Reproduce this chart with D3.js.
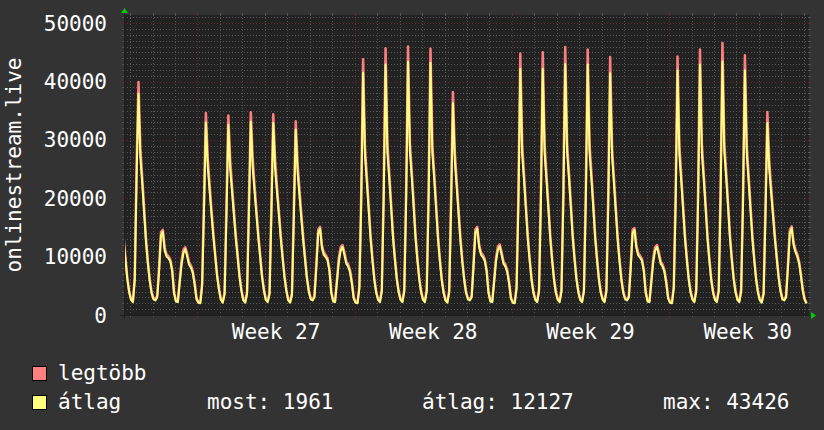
<!DOCTYPE html>
<html>
<head>
<meta charset="utf-8">
<script src="https://cdn.jsdelivr.net/npm/d3@7"></script>
<style>
body{margin:0;background:#333333;}
svg{display:block;}
text{font-family:"DejaVu Sans Mono",monospace;fill:#ffffff;}
</style>
</head>
<body>
<script>
(function(){

//first sample time and spacing (one sample every 2 hours)
var startTime = Date.UTC(2024, 5, 27, 17);
var stepHours = 2;

//átlag (average) series, one row per day
var avgValues = [
    13000, 9500, 6200, 3900,                                                        //Thu wk26 (17h-23h)
    2600, 2200, 6000, 24000, 37900, 27000, 22500, 17500, 12500, 8800, 5800, 3700,   //Fri
    2700, 2500, 3000, 7500, 13600, 14300, 11000, 10000, 9700, 9200, 7500, 3700,     //Sat
    2300, 2200, 5500, 8600, 10600, 11300, 10000, 8600, 8100, 7200, 5200, 2700,      //Sun
    2100, 2000, 5000, 18000, 33000, 25400, 21300, 17200, 13400, 10000, 6600, 4300,  //Mon wk27
    2600, 2100, 3500, 17000, 32600, 25000, 21000, 17000, 13000, 9800, 6400, 4100,
    2500, 2100, 3600, 17500, 33100, 25300, 21200, 17200, 13300, 9900, 6500, 4200,
    2600, 2200, 3500, 17000, 32900, 25000, 21000, 17100, 13100, 9700, 6400, 4100,
    2500, 2100, 3400, 16500, 31800, 24500, 20500, 16500, 12800, 9400, 6200, 4000,
    2700, 2500, 3000, 8000, 14000, 14800, 11500, 10300, 9900, 9400, 7600, 3800,
    2300, 2200, 5600, 9000, 11000, 11700, 10300, 8800, 8300, 7400, 5400, 2800,
    2100, 2000, 4500, 19000, 41500, 27300, 22800, 17900, 13000, 9300, 6000, 3800,   //Mon wk28
    2600, 2200, 4000, 19500, 42900, 27800, 23200, 18200, 13100, 9400, 6100, 3900,
    2600, 2200, 4000, 19500, 43400, 28000, 23600, 18600, 13200, 9400, 6100, 3900,
    2600, 2200, 4000, 19500, 43200, 27800, 23300, 18300, 13100, 9300, 6000, 3800,
    2500, 2100, 3800, 18000, 36300, 26500, 22000, 17300, 12700, 9100, 6000, 3800,
    2700, 2500, 3000, 8200, 14100, 14800, 11600, 10300, 9900, 9300, 7500, 3800,
    2300, 2200, 5600, 9100, 11100, 11800, 10300, 8800, 8300, 7400, 5400, 2800,
    2100, 2000, 4500, 19200, 42200, 27600, 23000, 18000, 13000, 9300, 6000, 3800,   //Mon wk29
    2600, 2200, 4000, 19300, 42200, 27600, 23000, 18100, 13100, 9300, 6000, 3800,
    2600, 2200, 4000, 19500, 43000, 27900, 23400, 18400, 13200, 9400, 6100, 3900,
    2600, 2200, 4000, 19500, 42900, 27800, 23300, 18300, 13100, 9300, 6000, 3800,
    2600, 2200, 4000, 19000, 41400, 27300, 22700, 17800, 12900, 9200, 6000, 3800,
    2700, 2500, 3000, 8000, 14000, 14600, 11500, 10200, 9800, 9300, 7500, 3800,
    2300, 2200, 5600, 9000, 11000, 11700, 10300, 8800, 8300, 7400, 5400, 2800,
    2100, 2000, 4500, 19000, 41900, 27500, 22900, 17900, 13000, 9300, 6000, 3800,   //Mon wk30
    2600, 2200, 4000, 19500, 42900, 27800, 23300, 18300, 13100, 9300, 6000, 3800,
    2600, 2200, 4000, 19600, 43426, 28000, 23500, 18500, 13200, 9400, 6100, 3900,
    2600, 2200, 4000, 19000, 41950, 27500, 22900, 17900, 13000, 9300, 6000, 3800,
    2500, 2100, 3500, 17000, 32900, 25000, 21000, 17000, 13100, 9700, 6400, 4100,
    2700, 2500, 3000, 8000, 14000, 14900, 12000, 10800, 10000, 8800, 6500, 4000,
    2500, 1961                                                                      //Sun wk30 (1h-3h)
];

//legtöbb (maximum) series, same timestamps
var maxValues = [
    13600, 9900, 6500, 4100,
    2750, 2350, 6400, 26000, 39900, 28500, 23500, 18300, 13100, 9200, 6100, 3900,
    2900, 2650, 3300, 8200, 14200, 14600, 11500, 10400, 10100, 9500, 7800, 3900,
    2500, 2350, 5800, 9300, 11200, 11600, 10500, 9000, 8500, 7500, 5500, 2900,
    2250, 2150, 5400, 20000, 34600, 26900, 22300, 18000, 14000, 10400, 6900, 4500,
    2750, 2250, 3900, 19000, 34200, 26500, 22000, 17800, 13600, 10200, 6700, 4300,
    2650, 2250, 4000, 19500, 34750, 26800, 22200, 18000, 13900, 10300, 6800, 4400,
    2750, 2350, 3900, 19000, 34400, 26500, 22000, 17900, 13700, 10100, 6700, 4300,
    2650, 2250, 3800, 18500, 33200, 26000, 21500, 17300, 13400, 9800, 6500, 4200,
    2900, 2650, 3300, 8700, 14600, 15100, 12000, 10700, 10300, 9700, 7900, 4000,
    2500, 2350, 5900, 9700, 11600, 12000, 10800, 9200, 8700, 7700, 5700, 3000,
    2250, 2150, 4900, 21000, 43800, 28800, 23800, 18700, 13600, 9700, 6300, 4000,
    2750, 2350, 4400, 21500, 45700, 29300, 24200, 19000, 13700, 9800, 6400, 4100,
    2750, 2350, 4400, 21500, 46000, 29500, 24600, 19400, 13800, 9800, 6400, 4100,
    2750, 2350, 4400, 21500, 45600, 29300, 24300, 19100, 13700, 9700, 6300, 4000,
    2650, 2250, 4200, 20000, 38200, 28000, 23000, 18100, 13300, 9500, 6300, 4000,
    2900, 2650, 3300, 8900, 14700, 15100, 12100, 10700, 10300, 9600, 7800, 4000,
    2500, 2350, 5900, 9800, 11700, 12100, 10800, 9200, 8700, 7700, 5700, 3000,
    2250, 2150, 4900, 21200, 44800, 29100, 24000, 18800, 13600, 9700, 6300, 4000,
    2750, 2350, 4400, 21300, 45000, 29100, 24000, 18900, 13700, 9700, 6300, 4000,
    2750, 2350, 4400, 21500, 45900, 29400, 24400, 19200, 13800, 9800, 6400, 4100,
    2750, 2350, 4400, 21500, 45500, 29300, 24300, 19100, 13700, 9700, 6300, 4000,
    2750, 2350, 4400, 21000, 44200, 28800, 23700, 18600, 13500, 9600, 6300, 4000,
    2900, 2650, 3300, 8700, 14600, 14900, 12000, 10600, 10200, 9600, 7800, 4000,
    2500, 2350, 5900, 9700, 11600, 12000, 10800, 9200, 8700, 7700, 5700, 3000,
    2250, 2150, 4900, 21000, 44300, 29000, 23900, 18700, 13600, 9700, 6300, 4000,
    2750, 2350, 4400, 21500, 45500, 29300, 24300, 19100, 13700, 9700, 6300, 4000,
    2750, 2350, 4400, 21600, 46600, 29500, 24500, 19300, 13800, 9800, 6400, 4100,
    2750, 2350, 4400, 21000, 44500, 29000, 23900, 18700, 13600, 9700, 6300, 4000,
    2650, 2250, 3900, 19000, 34800, 26500, 22000, 17800, 13700, 10100, 6700, 4300,
    2900, 2650, 3300, 8700, 14600, 15200, 12500, 11200, 10400, 9100, 6800, 4200,
    2700, 2100
];

//y axis labels and legend text
var yTickValues = [0, 10000, 20000, 30000, 40000, 50000];
var yTitle = "onlinestream.live";
var seriesNames = ["legtöbb", "átlag"];
var seriesColors = ["#ff7f7f", "#ffff7f"];
var gprintLabels = ["most: 1961", "átlag: 12127", "max: 43426"];

window.onload = drawGraph();

function drawGraph(){
    var width = 824, height = 430;

    //plot area, like rrdtool xorigin/yorigin
    var x0 = 124, x1 = 809, yBottom = 315, yTop = 15;

    var svg = d3.select("body")
        .append("svg")
        .attr("width", width)
        .attr("height", height);

    svg.append("rect")
        .attr("width", width)
        .attr("height", height)
        .attr("fill", "#333333");

    var x = d3.scaleUtc()
        .domain([new Date(Date.UTC(2024, 5, 27, 17, 30)), new Date(Date.UTC(2024, 6, 28, 5, 30))])
        .range([x0, x1]);

    var y = d3.scaleLinear()
        .domain([0, 51400])
        .range([yBottom, yTop]);

    //canvas
    svg.append("rect")
        .attr("x", x0)
        .attr("y", yTop)
        .attr("width", x1 - x0)
        .attr("height", yBottom - yTop)
        .attr("fill", "#222222");

    var grid = svg.append("g");
    var minorCol = "#555555", majorCol = "#5e2c2c";

    //horizontal grid, every 1000
    var hLines = d3.range(0, 51001, 1000);
    hLines.forEach(function(v){
        var major = v % 10000 == 0;
        var py = Math.round(y(v)) + 0.5;
        var col = major ? majorCol : minorCol;
        grid.append("line")
            .attr("x1", x0).attr("x2", x1)
            .attr("y1", py).attr("y2", py)
            .attr("stroke", col)
            .attr("stroke-dasharray", "1,2");
        //small ticks outside the canvas
        grid.append("line").attr("x1", x0 - 2).attr("x2", x0).attr("y1", py).attr("y2", py).attr("stroke", col);
        grid.append("line").attr("x1", x1).attr("x2", x1 + 2).attr("y1", py).attr("y2", py).attr("stroke", col);
    });

    //vertical grid, days and weeks
    var days = d3.utcDay.range(x.domain()[0], x.domain()[1]);
    days.forEach(function(d){
        var major = d.getUTCDay() == 1;
        var px = Math.round(x(d)) + 0.5;
        var col = major ? majorCol : minorCol;
        var t = major ? 3 : 2;
        grid.append("line")
            .attr("x1", px).attr("x2", px)
            .attr("y1", yTop).attr("y2", yBottom)
            .attr("stroke", col)
            .attr("stroke-dasharray", "1,2");
        grid.append("line").attr("x1", px).attr("x2", px).attr("y1", yTop - t).attr("y2", yTop).attr("stroke", col);
        grid.append("line").attr("x1", px).attr("x2", px).attr("y1", yBottom).attr("y2", yBottom + t).attr("stroke", col);
    });

    //build series from the value arrays
    function toPoints(values){
        return values.map(function(v, i){
            return {t: new Date(startTime + i * stepHours * 3600000), v: v};
        });
    };

    svg.append("clipPath")
        .attr("id", "plotclip")
        .append("rect")
        .attr("x", x0)
        .attr("y", yTop - 2)
        .attr("width", x1 - x0)
        .attr("height", yBottom - yTop + 2);

    var line = d3.line()
        .x(function(d){ return x(d.t); })
        .y(function(d){ return y(d.v); });

    var lines = svg.append("g").attr("clip-path", "url(#plotclip)");
    [maxValues, avgValues].forEach(function(vals, i){
        lines.append("path")
            .datum(toPoints(vals))
            .attr("d", line)
            .attr("fill", "none")
            .attr("stroke", seriesColors[i])
            .attr("stroke-width", i == 0 ? 2.5 : 2)
            .attr("stroke-linejoin", "round");
    });

    //axes and arrows
    svg.append("line")
        .attr("x1", x0 - 4).attr("x2", x1 + 4)
        .attr("y1", yBottom + 0.5).attr("y2", yBottom + 0.5)
        .attr("stroke", "#1f1f1f");
    svg.append("line")
        .attr("x1", x0 + 0.5).attr("x2", x0 + 0.5)
        .attr("y1", yBottom + 4).attr("y2", yTop - 4)
        .attr("stroke", "#1f1f1f");
    svg.append("path")
        .attr("d", "M" + (x1 + 2) + "," + (yBottom - 3) + "L" + (x1 + 2) + "," + (yBottom + 4) + "L" + (x1 + 7) + "," + (yBottom + 0.5) + "Z")
        .attr("fill", "#00cc00");
    svg.append("path")
        .attr("d", "M" + (x0 - 3) + "," + (yTop - 2) + "L" + (x0 + 4) + "," + (yTop - 2) + "L" + (x0 + 0.5) + "," + (yTop - 7) + "Z")
        .attr("fill", "#00cc00");

    //y labels
    svg.selectAll(".ylab")
        .data(yTickValues)
        .enter()
        .append("text")
        .attr("class", "ylab")
        .attr("x", 107)
        .attr("y", function(d){ return y(d) + 7.5; })
        .attr("text-anchor", "end")
        .style("font-size", "21px")
        .text(function(d){ return d; });

    //week labels, centred in the week
    var fmt = d3.utcFormat("Week %V");
    var weeks = d3.utcMonday.range(x.domain()[0], x.domain()[1]);
    svg.selectAll(".xlab")
        .data(weeks)
        .enter()
        .append("text")
        .attr("class", "xlab")
        .attr("x", function(d){ return x(d3.utcHour.offset(d, 84)); })
        .attr("y", 338.5)
        .attr("text-anchor", "middle")
        .style("font-size", "21px")
        .text(function(d){ return fmt(d); });

    //vertical title
    svg.append("text")
        .attr("transform", "translate(21," + ((yTop + yBottom) / 2) + ") rotate(-90)")
        .attr("text-anchor", "middle")
        .style("font-size", "21px")
        .text(yTitle);

    //legend
    var legendY = [380, 409];
    seriesNames.forEach(function(name, i){
        svg.append("rect")
            .attr("x", 32.5)
            .attr("y", legendY[i] - 13.5)
            .attr("width", 14)
            .attr("height", 14)
            .attr("fill", seriesColors[i])
            .attr("stroke", "#000000");
        svg.append("text")
            .attr("x", 58)
            .attr("y", legendY[i])
            .style("font-size", "21px")
            .text(name);
    });
    var gprintX = [207, 422, 663];
    gprintLabels.forEach(function(lab, i){
        svg.append("text")
            .attr("x", gprintX[i])
            .attr("y", legendY[1])
            .style("font-size", "21px")
            .text(lab);
    });
};

})();
</script>
</body>
</html>
